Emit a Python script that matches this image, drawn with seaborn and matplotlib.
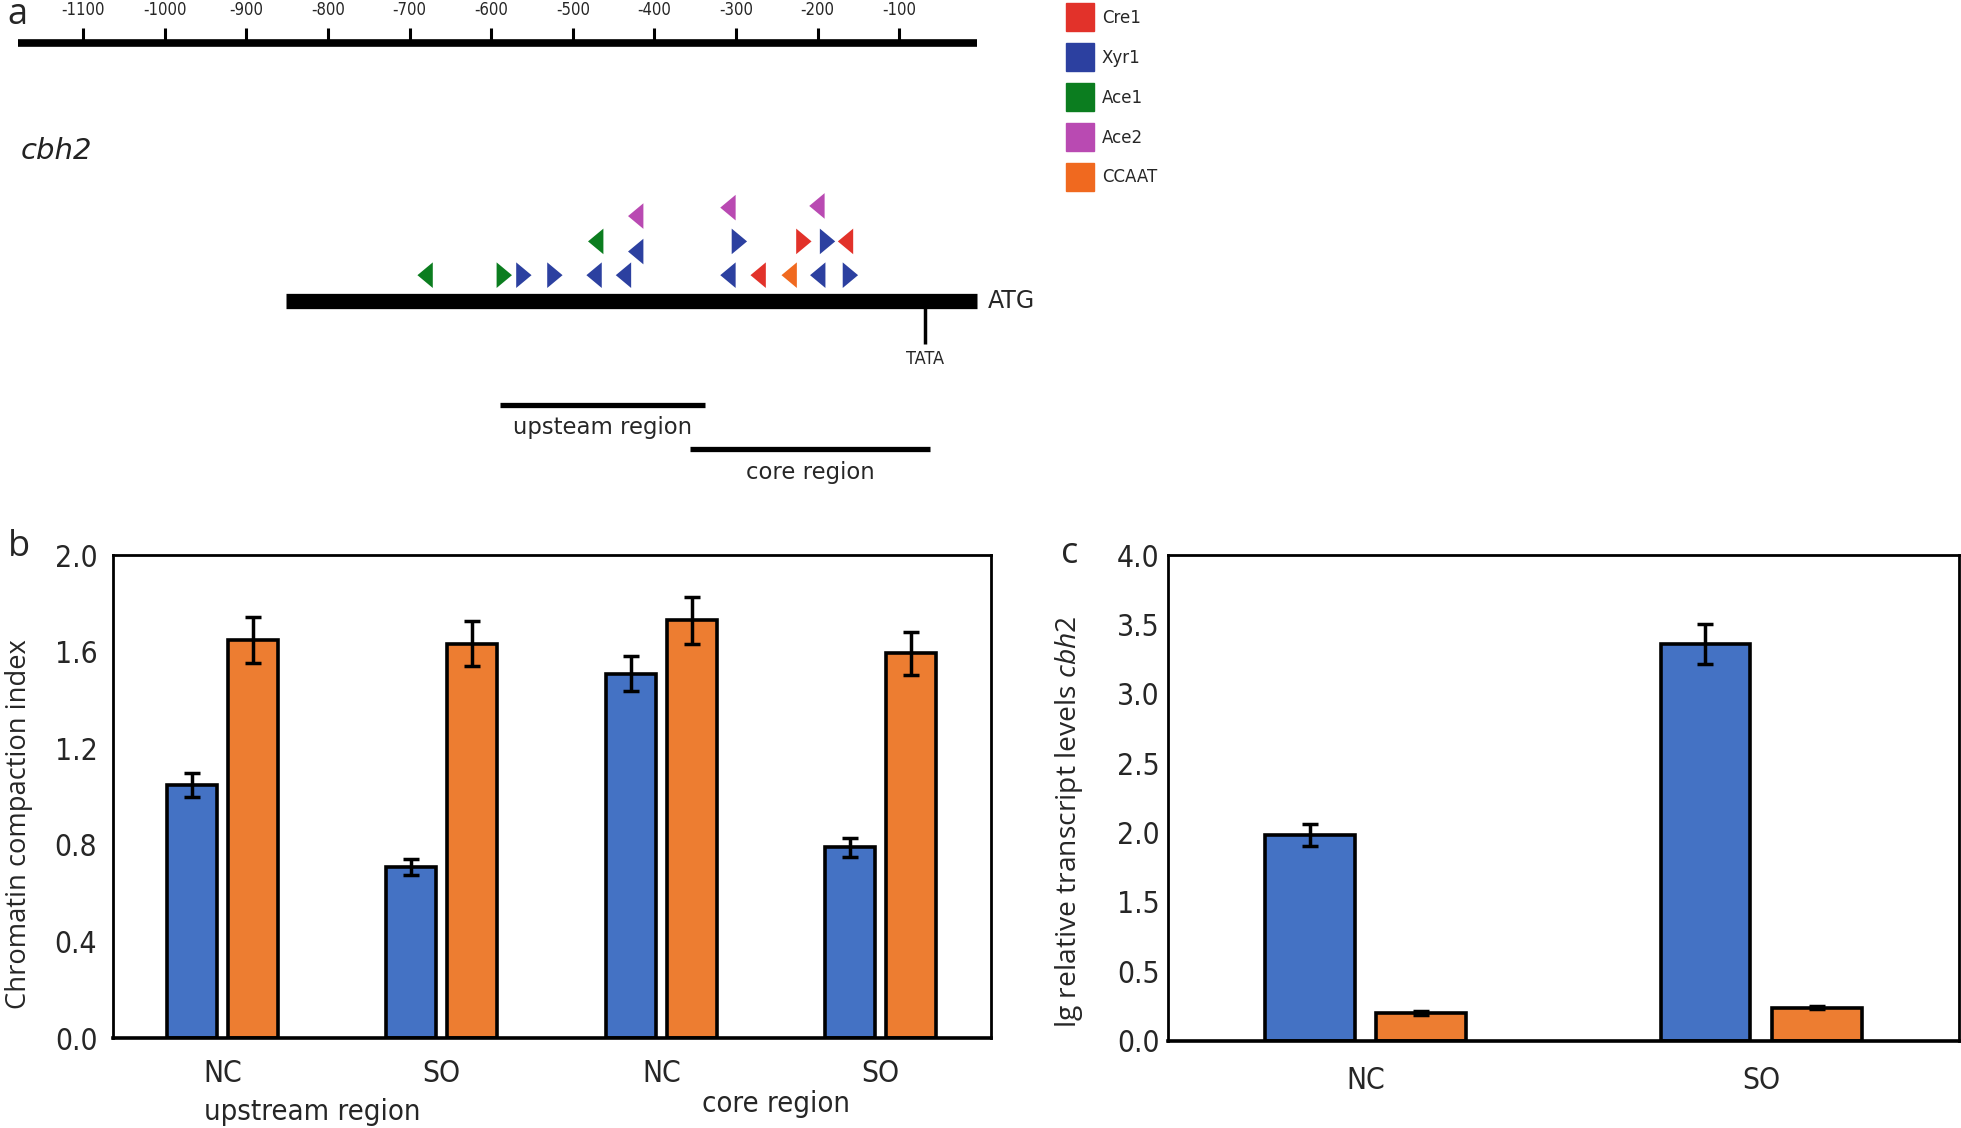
import numpy as np
import pandas as pd
import matplotlib
matplotlib.use('Agg')
import matplotlib.pyplot as plt
from matplotlib.path import Path
from matplotlib.lines import Line2D
import seaborn as sns

# ---- a: cbh2 promoter map, positions in bp relative to ATG
scale_ticks = [-1100, -1000, -900, -800, -700, -600, -500, -400, -300, -200, -100]
scale_span = [-1180, -5]
promoter_span = [-852, -5]
tata_pos = -69
upstream_span = [-589, -338]
core_span = [-357, -62]

site_pos = [-681, -584, -560, -522, -474, -438, -310, -273, -235, -200, -160,
            -472, -423, -296, -217, -188, -166,
            -423, -310, -201]
site_row = [0, 0, 0, 0, 0, 0, 0, 0, 0, 0, 0,
            1, 0.7, 1, 1, 1, 1,
            1.75, 2, 2.05]
site_factor = ['Ace1', 'Ace1', 'Xyr1', 'Xyr1', 'Xyr1', 'Xyr1', 'Xyr1', 'Cre1', 'CCAAT', 'Xyr1', 'Xyr1',
               'Ace1', 'Xyr1', 'Xyr1', 'Cre1', 'Xyr1', 'Cre1',
               'Ace2', 'Ace2', 'Ace2']
site_strand = ['<', '>', '>', '>', '<', '<', '<', '<', '<', '<', '>',
               '<', '<', '>', '>', '>', '<',
               '<', '<', '<']
factors = ['Cre1', 'Xyr1', 'Ace1', 'Ace2', 'CCAAT']
factor_colors = ['#E2322A', '#2C40A0', '#0B7D1F', '#B94AB2', '#F0691F']

# ---- b: chromatin compaction
b_groups = ['upstream NC', 'upstream SO', 'core NC', 'core SO']
b_ticklabels = ['NC', 'SO', 'NC', 'SO']
b_blue = [1.05, 0.71, 1.51, 0.79]
b_blue_err = [0.05, 0.034, 0.071, 0.038]
b_orange = [1.649, 1.633, 1.731, 1.594]
b_orange_err = [0.095, 0.093, 0.097, 0.09]

# ---- c: transcript levels (tick labels as printed in the original)
c_groups = ['NC', 'SO']
c_blue = [1.48, 2.86]
c_blue_err = [0.08, 0.145]
c_orange = [0.198, 0.237]
c_orange_err = [0.015, 0.012]
c_yticks = [0.0, 0.5, 1.0, 1.5, 2.0, 2.5, 3.0, 3.5]
c_yticklabels = ['0.0', '0.5', '1.5', '2.0', '2.5', '3.0', '3.5', '4.0']

BLUE = '#4472C4'
ORANGE = '#ED7D31'
NARROW = ['Liberation Sans Narrow', 'DejaVu Sans Condensed', 'DejaVu Sans']

sns.set_style('white')
plt.rcParams['font.family'] = ['Open Sans', 'DejaVu Sans']
plt.rcParams['mathtext.fontset'] = 'custom'
plt.rcParams['mathtext.rm'] = 'Open Sans'
plt.rcParams['mathtext.it'] = 'Open Sans:italic'

fig = plt.figure(figsize=(19.61, 11.28), dpi=100)

# ================= panel a =================
ax_a = fig.add_axes([0, 0.56, 1, 0.44])
px_per_bp = 0.6527
origin = 784.4
ax_a.set_xlim(-origin / px_per_bp, (1568 - origin) / px_per_bp)
ax_a.set_ylim(396.8, 0)
ax_a.axis('off')

ax_a.plot(scale_span, [34, 34], color='black', lw=5.5, solid_capstyle='butt')
ax_a.vlines(scale_ticks, 22, 33, color='black', lw=2.2)
for t in scale_ticks:
    ax_a.text(t, 8, str(t), ha='center', va='center', fontsize=12, family=NARROW,
              fontstretch='condensed')

ax_a.plot(promoter_span, [241, 241], color='black', lw=11, solid_capstyle='butt')
ax_a.vlines([tata_pos], 241, 275, color='black', lw=2.5)
ax_a.text(tata_pos, 287, 'TATA', ha='center', va='center', fontsize=13, family=NARROW,
          fontstretch='condensed')
ax_a.text(promoter_span[1] + 13, 241, 'ATG', ha='left', va='center', fontsize=17,
          family='DejaVu Sans')

ax_a.plot(upstream_span, [324, 324], color='black', lw=3.8, solid_capstyle='butt')
ax_a.text(np.mean(upstream_span), 342, 'upsteam region', ha='center', va='center',
          fontsize=16.4, family='DejaVu Sans')
ax_a.plot(core_span, [359, 359], color='black', lw=3.8, solid_capstyle='butt')
ax_a.text(np.mean(core_span), 378, 'core region', ha='center', va='center',
          fontsize=16.4, family='DejaVu Sans')

ax_a.text(-1176, 121, 'cbh2', ha='left', va='center', fontsize=21, style='italic',
          family='DejaVu Sans', color='#222222')

right_tri = Path([(-0.6, -1), (0.6, 0), (-0.6, 1), (-0.6, -1)],
                 [Path.MOVETO, Path.LINETO, Path.LINETO, Path.CLOSEPOLY])
left_tri = Path([(0.6, -1), (-0.6, 0), (0.6, 1), (0.6, -1)],
                [Path.MOVETO, Path.LINETO, Path.LINETO, Path.CLOSEPOLY])
color_of = dict(zip(factors, factor_colors))
sites = pd.DataFrame({'pos': site_pos, 'row': site_row,
                      'factor': site_factor, 'strand': site_strand})
sites['y'] = 220 - 27 * sites['row']
for strand, marker in [('>', right_tri), ('<', left_tri)]:
    sub = sites[sites['strand'] == strand]
    sns.scatterplot(data=sub, x='pos', y='y', hue='factor', palette=color_of,
                    marker=marker, s=340, linewidth=0, legend=False, ax=ax_a)
ax_a.set_xlabel('')
ax_a.set_ylabel('')

handles = [Line2D([], [], ls='', marker='s', markersize=20, color=c, label=f)
           for f, c in zip(factors, factor_colors)]
ax_a.legend(handles=handles, loc='upper left', bbox_to_anchor=(0.539, 1.012),
            frameon=False, prop={'family': 'DejaVu Sans', 'size': 12},
            labelspacing=1.31, handlelength=1.0, handletextpad=0.8)

fig.text(0.004, 0.987, 'a', fontsize=26, ha='left', va='center')
fig.text(0.004, 0.5155, 'b', fontsize=26, ha='left', va='center')
fig.text(0.541, 0.509, 'c', fontsize=26, ha='left', va='center')


def draw_bars(ax, groups, blue, blue_err, orange, orange_err, width, gap):
    df = pd.DataFrame({'group': groups * 2,
                       'series': ['s1'] * len(groups) + ['s2'] * len(groups),
                       'value': blue + orange})
    sns.barplot(data=df, x='group', y='value', hue='series', order=groups,
                hue_order=['s1', 's2'], palette=[BLUE, ORANGE], saturation=1,
                width=width, gap=gap, edgecolor='black', linewidth=2.6,
                errorbar=None, legend=False, ax=ax)
    for cont, vals, errs in zip(ax.containers, [blue, orange], [blue_err, orange_err]):
        xs = [p.get_x() + p.get_width() / 2 for p in cont]
        ax.errorbar(xs, vals, yerr=errs, fmt='none', ecolor='black',
                    elinewidth=2.5, capsize=6, capthick=2.5, zorder=5)
    for s in ax.spines.values():
        s.set_visible(True)
        s.set_color('black')
        s.set_linewidth(2)
    ax.spines['bottom'].set_linewidth(2.6)
    ax.tick_params(length=0)
    ax.set_xlabel('')


tick_font = {'family': NARROW, 'fontsize': 21.5, 'fontstretch': 'condensed'}

# ================= panel b =================
ax_b = fig.add_axes([0.0574, 0.0797, 0.4477, 0.428])
draw_bars(ax_b, b_groups, b_blue, b_blue_err, b_orange, b_orange_err, 0.556, 0.18)
ax_b.set_xlim(-0.5, 3.5)
ax_b.set_ylim(0, 2.0)
ax_b.set_yticks([0.0, 0.4, 0.8, 1.2, 1.6, 2.0])
ax_b.set_yticklabels(['0.0', '0.4', '0.8', '1.2', '1.6', '2.0'], **tick_font)
ax_b.set_xticks(range(len(b_groups)))
ax_b.set_xticklabels(b_ticklabels, **tick_font)
ax_b.tick_params(axis='y', pad=11)
ax_b.tick_params(axis='x', pad=15)
ax_b.set_ylabel('Chromatin compaction index', fontsize=19.7)
ax_b.yaxis.set_label_coords(-0.091, 0.443)
ax_b.text(0.228, -0.153, 'upstream region', transform=ax_b.transAxes, ha='center',
          va='center', **dict(tick_font, fontsize=21))
ax_b.text(0.756, -0.137, 'core region', transform=ax_b.transAxes, ha='center',
          va='center', **dict(tick_font, fontsize=21))

# ================= panel c =================
ax_c = fig.add_axes([0.5957, 0.0775, 0.4031, 0.4302])
draw_bars(ax_c, c_groups, c_blue, c_blue_err, c_orange, c_orange_err, 0.562, 0.19)
ax_c.set_xlim(-0.5, 1.5)
ax_c.set_ylim(0, 3.5)
ax_c.set_yticks(c_yticks)
ax_c.set_yticklabels(c_yticklabels, **tick_font)
ax_c.set_xticks(range(len(c_groups)))
ax_c.set_xticklabels(c_groups, **tick_font)
ax_c.tick_params(axis='y', pad=6)
ax_c.tick_params(axis='x', pad=18)
ax_c.set_ylabel(r'lg relative transcript levels $\it{cbh2}$', fontsize=20.3)
ax_c.yaxis.set_label_coords(-0.105, 0.45)

fig.savefig('out.png', dpi=100)
